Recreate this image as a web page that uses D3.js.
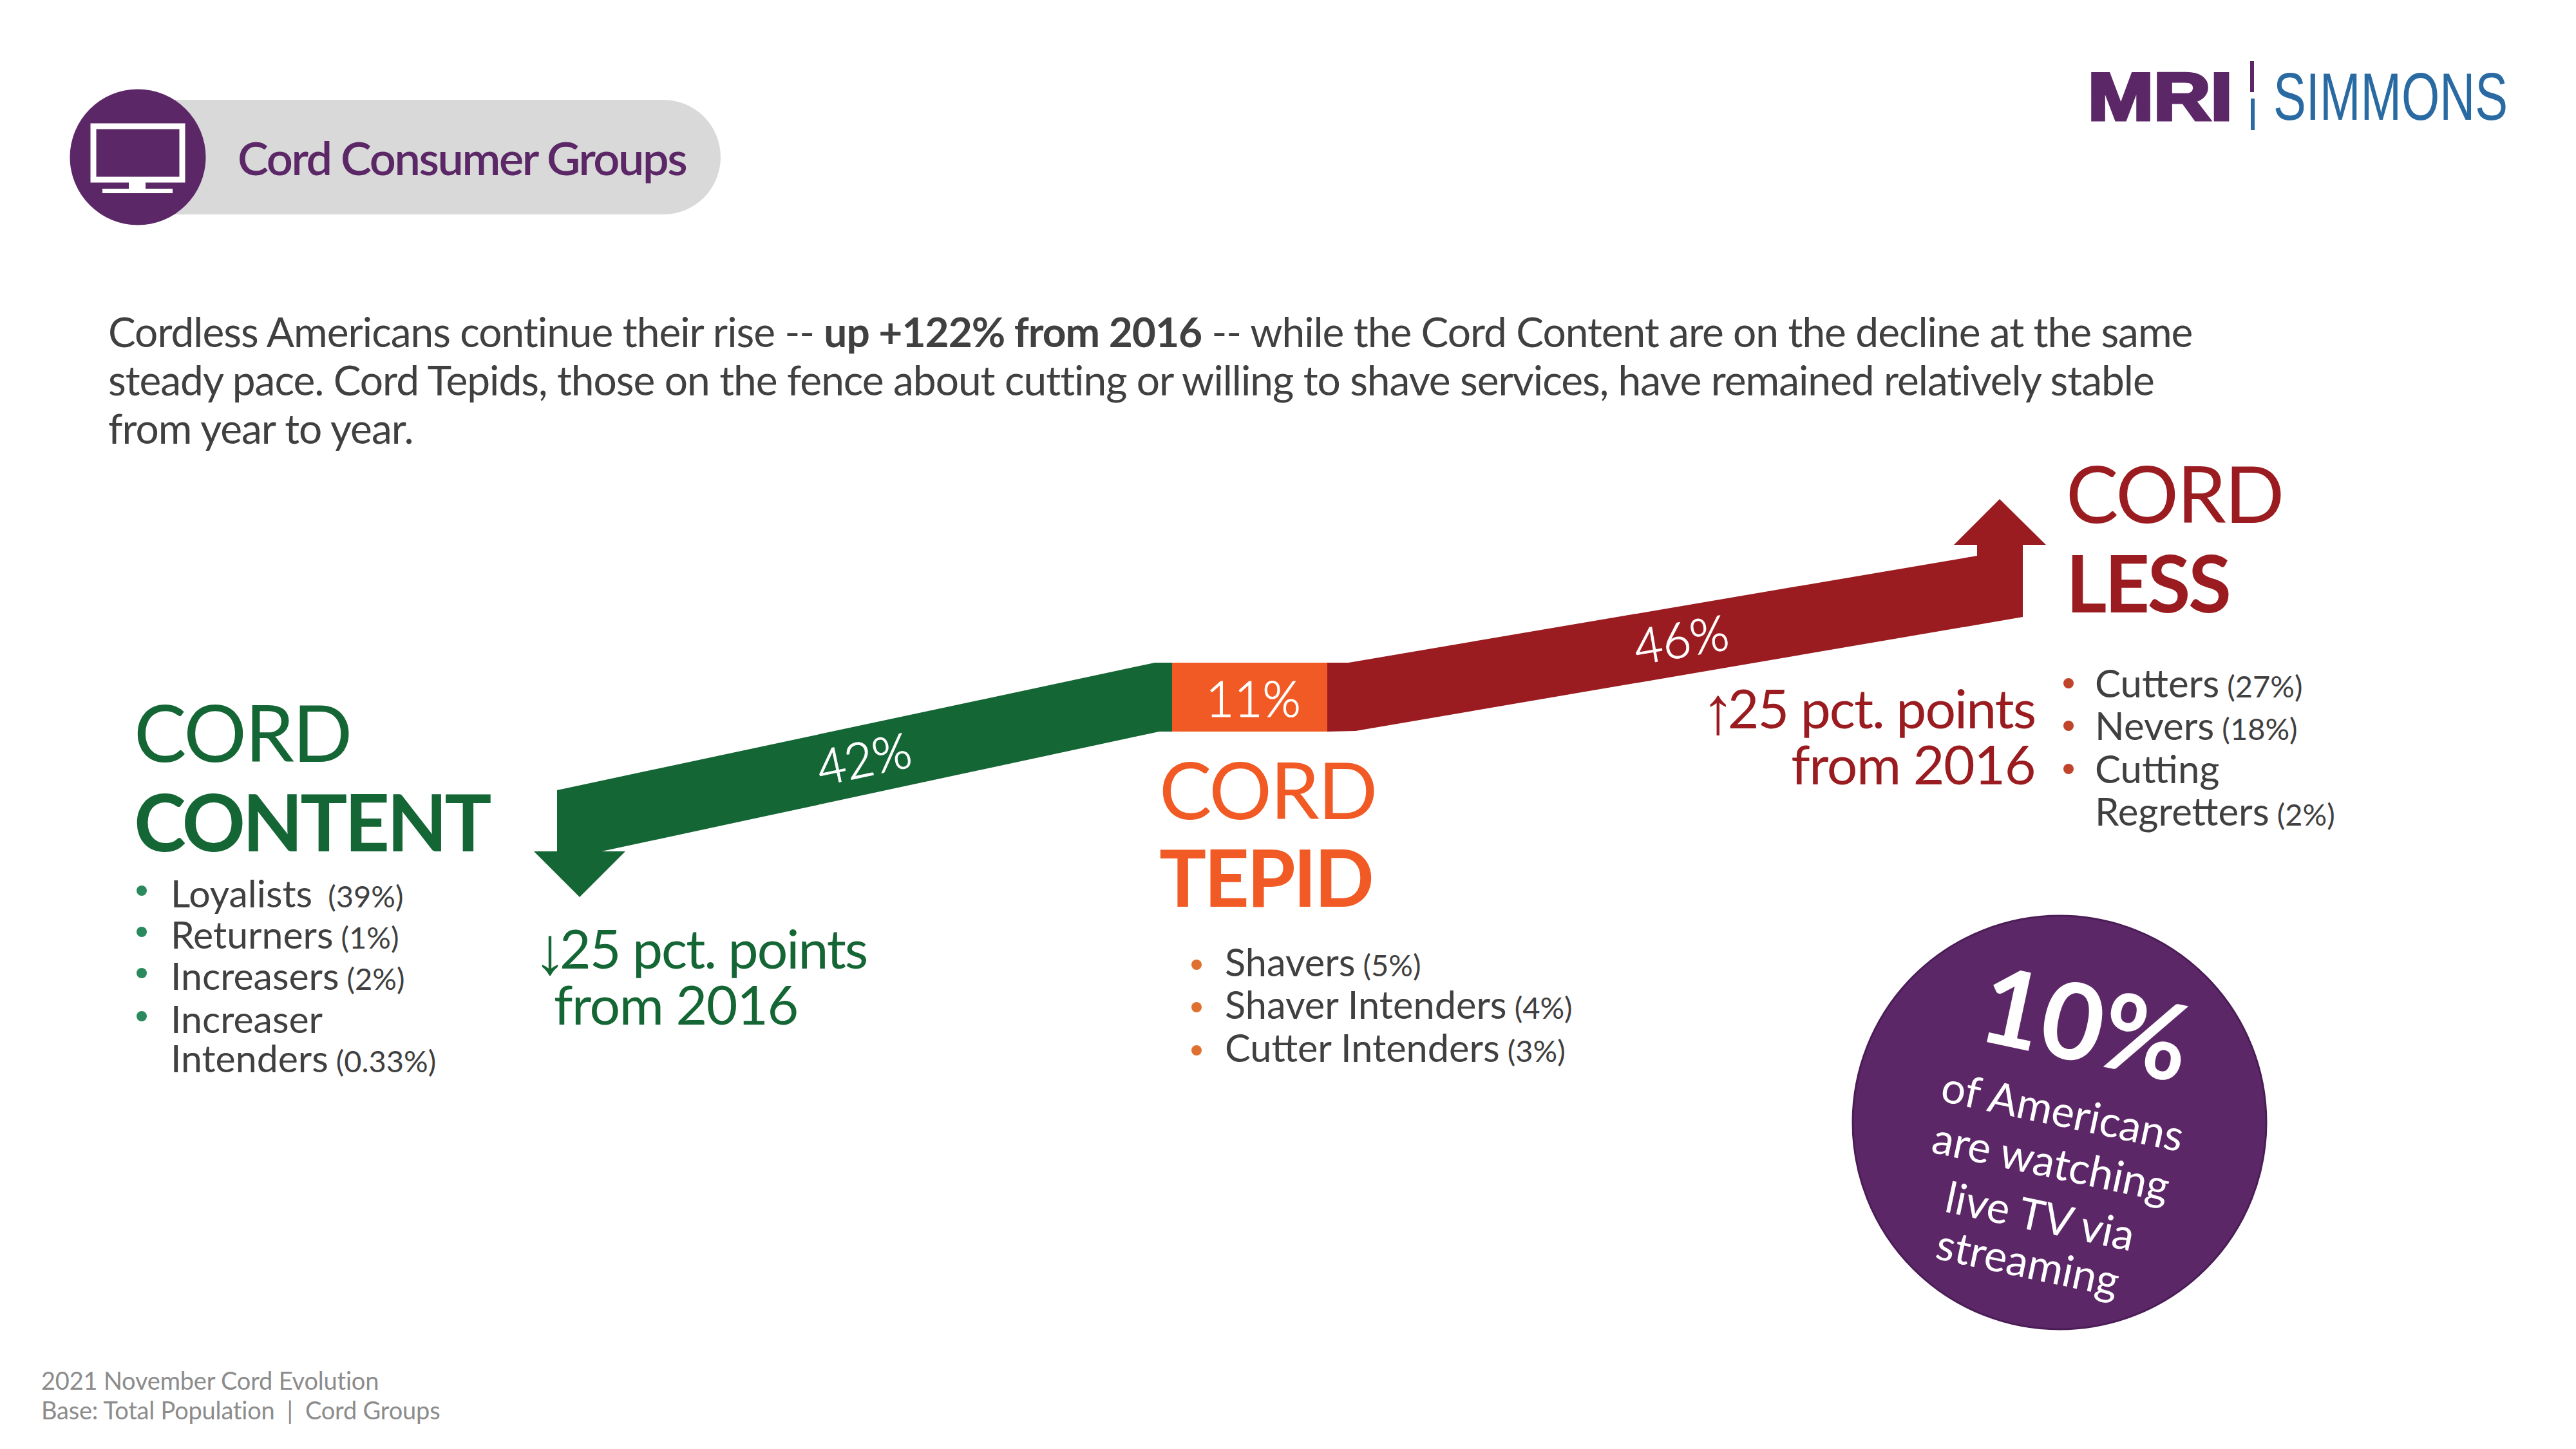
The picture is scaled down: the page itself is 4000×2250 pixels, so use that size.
<!DOCTYPE html>
<html>
<head>
<meta charset="utf-8">
<script src="https://d3js.org/d3.v7.min.js"></script>
<style>
  body { margin: 0; background: #fff; }
  text { font-family: Lato, sans-serif; }
</style>
</head>
<body>
<svg id="chart" width="4000" height="2250"></svg>
<script>
var groups = ["content", "tepid", "less"];
var shares = [42, 11, 46];

var contentItems = ["Loyalists", "Returners", "Increasers", "Increaser|Intenders"];
var contentShares = ["39%", "1%", "2%", "0.33%"];
var tepidItems = ["Shavers", "Shaver Intenders", "Cutter Intenders"];
var tepidShares = ["5%", "4%", "3%"];
var lessItems = ["Cutters", "Nevers", "Cutting|Regretters"];
var lessShares = ["27%", "18%", "2%"];

var purple = "#5c2767", grey = "#d9d9d9", green = "#156635",
    orange = "#f15a24", red = "#9b1c20", dark = "#404040", blue = "#2a6aa3";

var svg = d3.select("#chart");

function label(x, y, str, size, color, opts) {
    opts = opts || {};
    var t = svg.append("text")
        .attr("x", x).attr("y", y)
        .attr("font-size", size)
        .attr("fill", color)
        .attr("font-weight", opts.weight || 400)
        .attr("text-anchor", opts.anchor || "start")
        .text(str);
    if (opts.rotate) t.attr("transform", "rotate(" + opts.rotate + " " + x + " " + y + ")");
    if (opts.family) t.style("font-family", opts.family);
    if (opts.spacing) t.attr("letter-spacing", opts.spacing);
    if (opts.sx) t.attr("x", 0).attr("y", 0).attr("transform", "translate(" + x + "," + y + ") scale(" + opts.sx + ",1)");
    return t;
}

// header pill and tv icon
svg.append("rect").attr("x", 150).attr("y", 155).attr("width", 969).attr("height", 178)
    .attr("rx", 89).attr("fill", grey);
svg.append("circle").attr("cx", 214).attr("cy", 244).attr("r", 105.5).attr("fill", purple);
svg.append("rect").attr("x", 145).attr("y", 196).attr("width", 138).attr("height", 83)
    .attr("fill", "none").attr("stroke", "#fff").attr("stroke-width", 9);
svg.append("rect").attr("x", 200).attr("y", 283).attr("width", 26).attr("height", 10).attr("fill", "#fff");
svg.append("rect").attr("x", 159).attr("y", 293).attr("width", 109).attr("height", 7).attr("fill", "#fff");
label(369, 272, "Cord Consumer Groups", 72, purple, {weight: 600, spacing: -2.4});

// logo
label(3242, 186, "MRI", 103, purple, {weight: 700, family: "Liberation Sans", sx: 1.19})
    .attr("stroke", purple).attr("stroke-width", 5);
svg.append("line").attr("x1", 3497).attr("x2", 3497).attr("y1", 95).attr("y2", 143)
    .attr("stroke", purple).attr("stroke-width", 6);
svg.append("line").attr("x1", 3498).attr("x2", 3498).attr("y1", 153).attr("y2", 202)
    .attr("stroke", blue).attr("stroke-width", 6);
label(3530, 186, "SIMMONS", 103, blue, {family: "Liberation Sans", sx: 0.74});

// intro paragraph
var intro = svg.append("text").attr("font-size", 64).attr("fill", dark).attr("letter-spacing", -1);
intro.append("tspan").attr("x", 168).attr("y", 539).text("Cordless Americans continue their rise -- ");
intro.append("tspan").attr("font-weight", 700).text("up +122% from 2016");
intro.append("tspan").text(" -- while the Cord Content are on the decline at the same");
intro.append("tspan").attr("x", 168).attr("y", 614).text("steady pace. Cord Tepids, those on the fence about cutting or willing to shave services, have remained relatively stable");
intro.append("tspan").attr("x", 168).attr("y", 689).text("from year to year.");

// flow arrow, widths follow the shares
var cum = [0, shares[0], shares[0] + shares[1], shares[0] + shares[1] + shares[2]];
var x = d3.scaleLinear().domain(cum).range([865, 1820, 2061, 3141]);
var line = d3.line();

svg.append("path").attr("fill", green).attr("d", line([
    [x(cum[0]), 1227], [x(cum[1]) - 27, 1029], [x(cum[1]), 1029], [x(cum[1]), 1136],
    [x(cum[1]) - 20, 1136], [x(cum[0]) + 69, 1322], [x(cum[0]) + 106, 1322],
    [x(cum[0]) + 35, 1393], [x(cum[0]) - 36, 1322], [x(cum[0]), 1322]
]) + "Z");
svg.append("rect").attr("x", x(cum[1])).attr("y", 1029)
    .attr("width", x(cum[2]) - x(cum[1])).attr("height", 107).attr("fill", orange);
svg.append("path").attr("fill", red).attr("d", line([
    [x(cum[2]), 1029], [x(cum[2]) + 33, 1029], [x(cum[3]) - 71, 863], [x(cum[3]) - 71, 846],
    [x(cum[3]) - 107, 846], [x(cum[3]) - 36, 775], [x(cum[3]) + 36, 846], [x(cum[3]), 846],
    [x(cum[3]), 958], [x(cum[2]) + 44, 1135], [x(cum[2]), 1136]
]) + "Z");

function shareLabel(px, py, val, rot) {
    label(px, py, val + "%", 76, "#fff", {anchor: "middle", rotate: rot, weight: 300})
        .attr("stroke", "#fff").attr("stroke-width", 1.2);
}
shareLabel(1347, 1205, shares[0], -12);
shareLabel(1946, 1113, shares[1], 0);
shareLabel(2615, 1020, shares[2], -9.6);

// group headings
label(208, 1183, "CORD", 122, green, {spacing: -2.5});
label(208, 1322, "CONTENT", 122, green, {weight: 700, spacing: -4.4});
label(1800, 1272, "CORD", 122, orange, {spacing: -2.5});
label(1800, 1408, "TEPID", 122, orange, {weight: 700, spacing: -3.5});
label(3208, 812, "CORD", 122, red, {spacing: -2.5});
label(3208, 951, "LESS", 122, red, {weight: 700, spacing: -3.5});

// pct. points notes
function note(x, y, arrow, str, color, anchor) {
    var t = label(x, y, "", 84, color, {anchor: anchor, spacing: -2});
    t.append("tspan").style("font-family", "Liberation Sans").attr("font-size", 104)
        .attr("dy", 8).attr("letter-spacing", -11).text(arrow);
    t.append("tspan").attr("dy", -8).text(str);
}
note(828, 1504, "\u2193", "25 pct. points", green, "start");
label(860, 1591, "from 2016", 84, green, {spacing: -1.4});
note(3160, 1131, "\u2191", "25 pct. points", red, "end");
label(3160, 1218, "from 2016", 84, red, {anchor: "end", spacing: -1.4});

// bullet lists
function list(items, vals, tx, bx, ys, color, lift, size, gap) {
    var row = 0;
    items.forEach(function(item, i) {
        var parts = item.split("|");
        svg.append("circle").attr("cx", bx).attr("cy", ys[row] - lift).attr("r", 8).attr("fill", color);
        parts.forEach(function(p, j) {
            var t = label(tx, ys[row], p, size, dark);
            if (j == parts.length - 1) {
                t.append("tspan").attr("font-size", 47).attr("dx", gap && i == 0 ? 24 : 12).text("(" + vals[i] + ")");
            }
            row++;
        });
    });
}
list(contentItems, contentShares, 265, 220, [1409, 1473, 1537, 1604, 1665], "#2a8a5e", 26, 59, true);
list(tepidItems, tepidShares, 1902, 1858, [1516, 1582, 1649], "#e0702f", 18, 59.5);
list(lessItems, lessShares, 3253, 3212, [1083, 1149, 1216, 1282], "#c0432b", 22, 60);

// streaming callout
svg.append("circle").attr("cx", 3198).attr("cy", 1743).attr("r", 321)
    .attr("fill", purple).attr("stroke", "#4b1d57").attr("stroke-width", 3);
label(3226, 1648, "10%", 165, "#fff", {weight: 700, anchor: "middle", rotate: 12});
label(3198, 1749, "of Americans", 67, "#fff", {anchor: "middle", rotate: 12});
label(3180, 1828, "are watching", 67, "#fff", {anchor: "middle", rotate: 12});
label(3163, 1912, "live TV via", 67, "#fff", {anchor: "middle", rotate: 12});
label(3144, 1984, "streaming", 67, "#fff", {anchor: "middle", rotate: 12});

// footer
label(64, 2158, "2021 November Cord Evolution", 38, "#8c8c8c", {spacing: -0.2});
label(64, 2204, "Base: Total Population\u00a0\u00a0|\u00a0\u00a0Cord Groups", 38, "#8c8c8c", {spacing: -0.2});
</script>
</body>
</html>
